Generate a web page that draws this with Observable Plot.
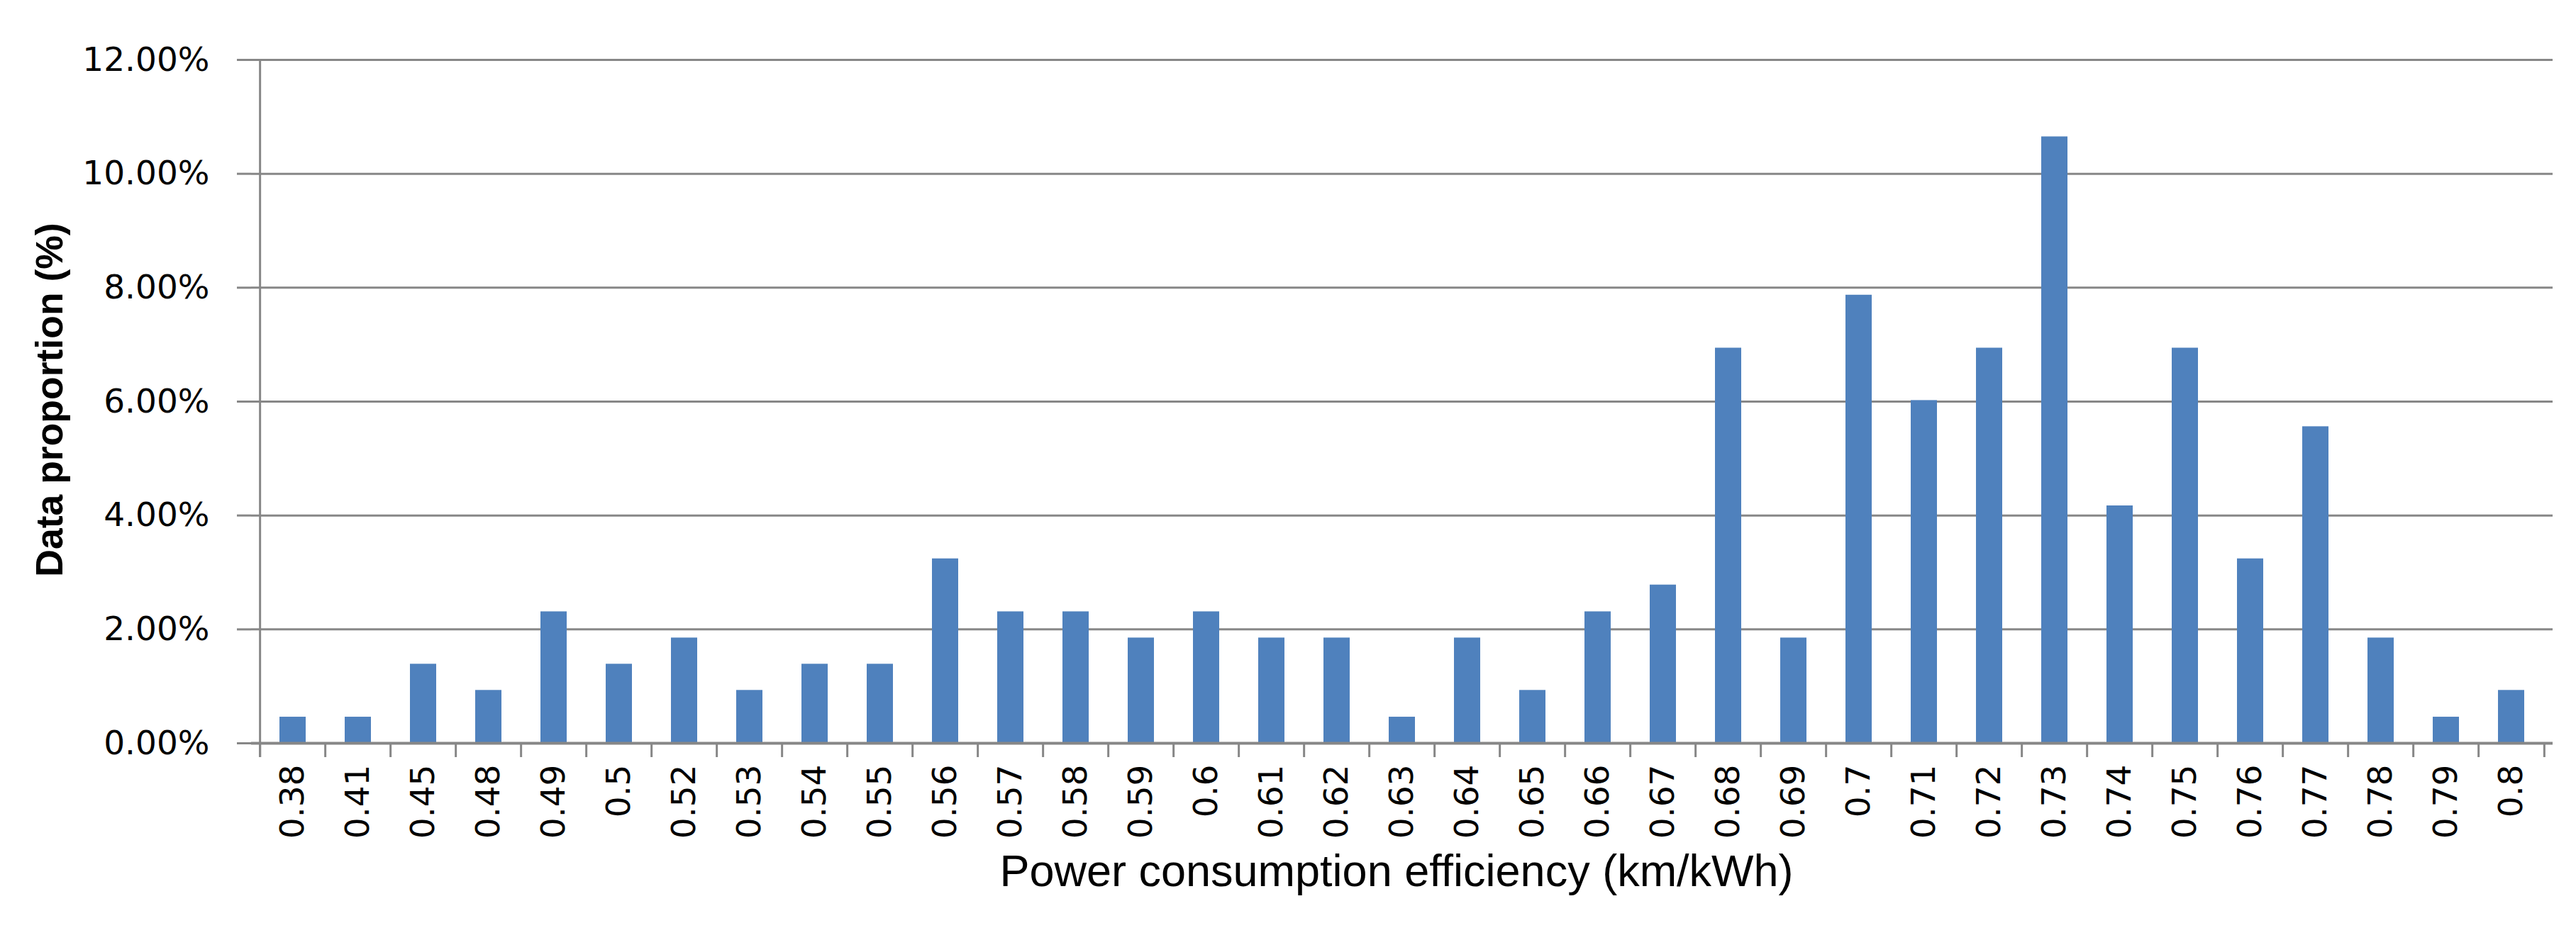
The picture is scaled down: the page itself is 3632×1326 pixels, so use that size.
<!DOCTYPE html>
<html>
<head>
<meta charset="utf-8">
<script src="https://cdn.jsdelivr.net/npm/d3@7"></script>
<script src="https://cdn.jsdelivr.net/npm/@observablehq/plot@0.6"></script>
<style>
html, body { margin: 0; padding: 0; background: #fff; }
#chart svg { display: block; }
</style>
</head>
<body>
<div id="chart"></div>
<script>
const categories = ["0.38","0.41","0.45","0.48","0.49","0.5","0.52","0.53","0.54","0.55","0.56","0.57","0.58","0.59","0.6","0.61","0.62","0.63","0.64","0.65","0.66","0.67","0.68","0.69","0.7","0.71","0.72","0.73","0.74","0.75","0.76","0.77","0.78","0.79","0.8"];
const proportions = [0.46, 0.46, 1.39, 0.93, 2.31, 1.39, 1.85, 0.93, 1.39, 1.39, 3.24, 2.31, 2.31, 1.85, 2.31, 1.85, 1.85, 0.46, 1.85, 0.93, 2.31, 2.78, 6.94, 1.85, 7.87, 6.02, 6.94, 10.65, 4.17, 6.94, 3.24, 5.56, 1.85, 0.46, 0.93];
const yTicks = [0, 2, 4, 6, 8, 10, 12];
const xLabel = "Power consumption efficiency (km/kWh)";
const yLabel = "Data proportion (%)";

const data = categories.map((c, i) => ({cat: c, value: proportions[i]}));

const W = 3632, H = 1326;
const mL = 354, mR = 33, mT = 84, mB = 278;
const pad = 0.6;
const step = (W - mL - mR) / categories.length;
const gray = "#878787";
const blue = "#4F81BD";

const chart = Plot.plot({
  width: W,
  height: H,
  marginLeft: mL,
  marginRight: mR,
  marginTop: mT,
  marginBottom: mB,
  style: {fontFamily: "DejaVu Sans", background: "#fff", color: "#000", overflow: "visible"},
  x: {type: "band", domain: categories, padding: pad, paddingOuter: pad / 2, align: 0.5},
  y: {domain: [0, 12], ticks: yTicks},
  marks: [
    Plot.ruleY(yTicks, {stroke: gray, strokeWidth: 3}),
    Plot.barY(data, {x: "cat", y: "value", fill: blue}),
    Plot.ruleY([0], {stroke: gray, strokeWidth: 4}),
    Plot.ruleX(categories, {x: d => d, dx: -step / 2, y1: 0, y2: 0, insetBottom: -20, stroke: gray, strokeWidth: 3}),
    Plot.ruleX([categories[categories.length - 1]], {x: d => d, dx: step / 2, y1: 0, y2: 0, insetBottom: -20, stroke: gray, strokeWidth: 3}),
    Plot.ruleX([categories[0]], {x: d => d, dx: -step / 2, y1: 12, y2: 0, insetBottom: -20, stroke: gray, strokeWidth: 3}),
    Plot.axisY({ticks: yTicks, tickSize: 20, tickPadding: 39, tickFormat: d => d.toFixed(2) + "%", fontSize: 47, stroke: gray, strokeWidth: 3, strokeOpacity: 1, fill: "#000", label: null}),
    Plot.axisX({tickSize: 0, tickPadding: 30, tickRotate: -90, fontSize: 47, fill: "#000", label: null}),
    Plot.text([xLabel], {text: d => d, frameAnchor: "bottom", dx: -8, dy: 201, fontSize: 63, fontFamily: "Liberation Sans", letterSpacing: 2.2, fill: "#000"}),
    Plot.text([yLabel], {text: d => d, frameAnchor: "left", textAnchor: "middle", dx: -284, dy: -2.5, rotate: -90, fontSize: 53.5, fontWeight: "bold", fontFamily: "'Liberation Sans', sans-serif", fill: "#000"})
  ]
});
document.getElementById("chart").appendChild(chart);
</script>
</body>
</html>
